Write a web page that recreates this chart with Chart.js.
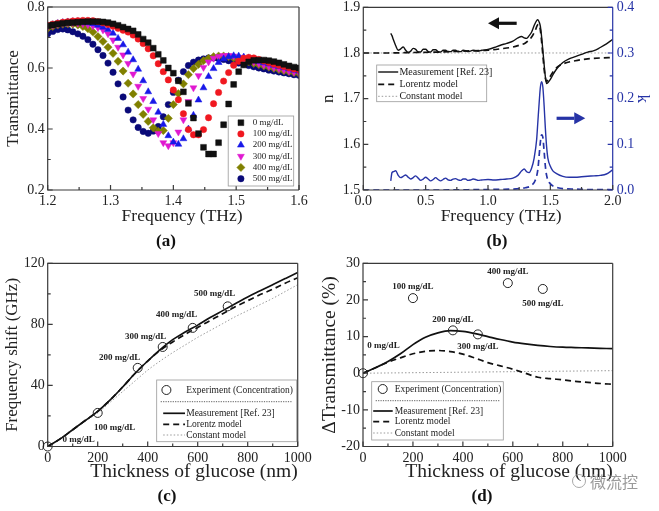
<!DOCTYPE html>
<html>
<head>
<meta charset="utf-8">
<script src="https://cdn.jsdelivr.net/npm/chart.js@4.4.1/dist/chart.umd.min.js"></script>
<style>
  body { margin: 0; background: #fff; }
  #wrap { position: relative; width: 659px; height: 511px; overflow: hidden; background: #fff; }
  canvas { position: absolute; }
  .tag { position: absolute; font: bold 17px "Liberation Serif", serif; color: #111; transform: translate(-50%, -50%); }
  .wm { position: absolute; left: 572px; top: 469px; font: 16px "Noto Sans CJK SC", sans-serif; color: #9a9a9a; display: flex; align-items: center; gap: 4px; }
  .wm i { display: inline-block; width: 12px; height: 12px; border: 1.5px solid #a8a8a8; border-radius: 50%; }
</style>
</head>
<body>
<div id="wrap">
  <canvas id="cA" width="330" height="255" style="left:0;top:0"></canvas>
  <canvas id="cB" width="341" height="255" style="left:318px;top:0"></canvas>
  <canvas id="cC" width="330" height="255" style="left:0;top:255px"></canvas>
  <canvas id="cD" width="341" height="255" style="left:318px;top:255px"></canvas>
  <div class="tag" style="left:166px;top:241px">(a)</div>
  <div class="tag" style="left:497px;top:241px">(b)</div>
  <div class="tag" style="left:167px;top:496px">(c)</div>
  <div class="tag" style="left:482px;top:496px">(d)</div>
  <div class="wm"><i></i>微流控</div>
</div>
<script>
// ---- (a) transmittance spectra ----
const freqA = [1.200, 1.208, 1.216, 1.224, 1.232, 1.240, 1.248, 1.256, 1.264, 1.272,
  1.280, 1.288, 1.296, 1.304, 1.312, 1.320, 1.328, 1.336, 1.344, 1.352,
  1.360, 1.368, 1.376, 1.384, 1.392, 1.400, 1.408, 1.416, 1.424, 1.432,
  1.440, 1.448, 1.456, 1.464, 1.472, 1.480, 1.488, 1.496, 1.504, 1.512,
  1.520, 1.528, 1.536, 1.544, 1.552, 1.560, 1.568, 1.576, 1.584, 1.592, 1.600];
const t0 = [.738, .741, .744, .746, .748, .749, .750, .751, .752, .752,
  .752, .751, .749, .745, .740, .734, .728, .722, .710, .695,
  .683, .665, .645, .625, .600, .583, .558, .522, .484, .436,
  .385, .340, .318, .318, .355, .414, .482, .546, .588, .610,
  .620, .625, .626, .626, .624, .621, .617, .612, .607, .603, .600];
const t100 = [.740, .744, .747, .750, .752, .754, .755, .756, .756, .755,
  .752, .748, .743, .737, .730, .724, .718, .708, .695, .680,
  .663, .640, .614, .588, .561, .528, .496, .450, .398, .381,
  .381, .398, .437, .483, .520, .557, .585, .609, .622, .632,
  .635, .633, .628, .623, .618, .613, .609, .605, .601, .597, .594];
const t200 = [.738, .742, .746, .749, .751, .752, .752, .750, .748, .745,
  .740, .734, .726, .714, .697, .676, .652, .627, .596, .558,
  .522, .490, .455, .415, .378, .357, .350, .368, .400, .445,
  .495, .535, .572, .598, .618, .630, .637, .640, .639, .636,
  .632, .627, .622, .617, .613, .609, .605, .601, .597, .593, .590];
const t300 = [.735, .740, .744, .747, .748, .748, .747, .745, .742, .738,
  .732, .725, .712, .692, .668, .643, .615, .580, .540, .500,
  .465, .430, .385, .355, .345, .355, .390, .430, .490, .535,
  .575, .602, .620, .632, .638, .641, .641, .639, .635, .630,
  .625, .620, .615, .610, .606, .602, .598, .594, .590, .587, .585];
const t400 = [.730, .736, .741, .744, .745, .744, .741, .736, .729, .718,
  .703, .687, .668, .648, .622, .590, .550, .515, .480, .448,
  .425, .404, .392, .395, .435, .480, .516, .548, .578, .598,
  .612, .624, .632, .637, .639, .639, .637, .633, .629, .624,
  .620, .615, .611, .607, .603, .599, .595, .591, .588, .585, .582];
const t500 = [.712, .720, .726, .728, .725, .719, .712, .704, .693, .678,
  .660, .641, .616, .586, .548, .505, .462, .430, .405, .392,
  .386, .393, .408, .440, .480, .520, .560, .588, .608, .619,
  .626, .630, .633, .633, .631, .628, .624, .620, .616, .612,
  .608, .604, .600, .597, .593, .590, .587, .584, .581, .578, .576];
const concA = ['0 mg/dL', '100 mg/dL', '200 mg/dL', '300 mg/dL', '400 mg/dL', '500 mg/dL'];

// ---- (b) refractive index n and extinction k ----
const freqB = [0.22, 0.23, 0.24, 0.26, 0.28, 0.30, 0.32, 0.34, 0.36, 0.38,
  0.40, 0.42, 0.44, 0.46, 0.48, 0.50, 0.52, 0.54, 0.56, 0.58,
  0.60, 0.62, 0.64, 0.66, 0.68, 0.70, 0.72, 0.74, 0.76, 0.78,
  0.80, 0.82, 0.84, 0.86, 0.88, 0.90, 0.92, 0.95, 1.00, 1.05,
  1.10, 1.15, 1.20, 1.24, 1.27, 1.29, 1.31, 1.33, 1.35, 1.37,
  1.39, 1.40, 1.41, 1.42, 1.43, 1.44, 1.45, 1.46, 1.47, 1.48,
  1.50, 1.52, 1.55, 1.60, 1.65, 1.70, 1.75, 1.80, 1.85, 1.90, 1.95, 2.00];
const nMeas = [1.843, 1.838, 1.830, 1.816, 1.806, 1.809, 1.813, 1.806, 1.801, 1.804,
  1.810, 1.808, 1.802, 1.802, 1.808, 1.808, 1.803, 1.802, 1.807, 1.807,
  1.803, 1.802, 1.806, 1.806, 1.803, 1.803, 1.806, 1.806, 1.803, 1.803,
  1.806, 1.805, 1.803, 1.804, 1.806, 1.805, 1.804, 1.806, 1.808, 1.812,
  1.817, 1.821, 1.826, 1.833, 1.836, 1.833, 1.832, 1.838, 1.846, 1.860,
  1.871, 1.873, 1.868, 1.858, 1.835, 1.805, 1.775, 1.748, 1.733, 1.735,
  1.742, 1.752, 1.765, 1.779, 1.787, 1.792, 1.797, 1.802, 1.805, 1.812, 1.820, 1.830];
const kMeas = [0.020, 0.038, 0.040, 0.042, 0.032, 0.027, 0.030, 0.033, 0.028, 0.024,
  0.027, 0.031, 0.026, 0.021, 0.024, 0.028, 0.024, 0.020, 0.023, 0.027,
  0.023, 0.020, 0.023, 0.026, 0.022, 0.021, 0.024, 0.025, 0.022, 0.021,
  0.024, 0.024, 0.021, 0.022, 0.024, 0.023, 0.021, 0.022, 0.023, 0.022,
  0.023, 0.024, 0.026, 0.032, 0.042, 0.046, 0.040, 0.038, 0.048, 0.070,
  0.110, 0.150, 0.190, 0.225, 0.237, 0.225, 0.185, 0.135, 0.095, 0.070,
  0.052, 0.042, 0.036, 0.030, 0.028, 0.028, 0.029, 0.030, 0.031, 0.032, 0.035, 0.044];
const freqLor = [0, 0.2, 0.4, 0.6, 0.8, 1.0, 1.1, 1.2, 1.25, 1.3,
  1.35, 1.38, 1.40, 1.41, 1.42, 1.43, 1.44, 1.45, 1.46, 1.47,
  1.49, 1.52, 1.56, 1.60, 1.70, 1.80, 1.90, 2.00];
const nLor = [1.800, 1.800, 1.801, 1.802, 1.804, 1.806, 1.809, 1.813, 1.817, 1.822,
  1.835, 1.850, 1.862, 1.862, 1.850, 1.825, 1.795, 1.765, 1.745, 1.738,
  1.745, 1.758, 1.770, 1.776, 1.783, 1.787, 1.789, 1.790];
const kLor = [0, 0, 0, 0, 0.0005, 0.001, 0.0015, 0.002, 0.003, 0.005,
  0.010, 0.022, 0.045, 0.075, 0.105, 0.121, 0.115, 0.085, 0.052, 0.032,
  0.017, 0.009, 0.005, 0.003, 0.002, 0.001, 0.001, 0.0005];
const freqConst = [0, 2.0];
const nConst = [1.8, 1.8];

// ---- (c), (d) versus glucose thickness ----
const thick = [0, 50, 100, 150, 200, 250, 300, 350, 400, 450, 500,
  550, 600, 650, 700, 750, 800, 850, 900, 950, 1000];
const shiftMeas = [0, 5, 11, 17, 23, 30.5, 39, 48, 56, 63.5, 70,
  75, 79.5, 84.5, 89, 93.5, 98, 102, 106, 110, 114];
const shiftLor = [0, 5, 11, 17, 23, 30.5, 39, 48, 56, 63, 68.5,
  73.5, 78, 82.5, 87, 91.5, 95.5, 99.5, 103, 107, 110.5];
const shiftConst = [0, 5.5, 11, 16.5, 22, 29, 36, 43, 50, 56, 61.5,
  66.5, 71.5, 76, 80.5, 85, 89, 93, 97, 101.5, 106];
const dTransMeas = [0, 1.5, 3.2, 5.3, 7.8, 9.8, 11.0, 11.6, 11.4, 10.8, 10.0,
  9.2, 8.5, 8.0, 7.6, 7.3, 7.1, 7.0, 6.9, 6.8, 6.7];
const dTransLor = [0, 1.5, 3.0, 4.2, 5.3, 6.0, 6.2, 5.9, 5.2, 4.1, 2.9,
  2.0, 1.1, 0.0, -1.1, -1.5, -1.8, -2.2, -2.5, -2.8, -3.0];
const thickConst = [0, 500, 1000];
const dTransConst = [0, 0.35, 0.7];
const thickExp = [0, 200, 360, 460, 580, 720];
const shiftExp = [0, 22, 51.5, 65.2, 77.7, 91.8];
const dTransExp = [0, 20.5, 11.7, 10.6, 24.6, 23];
const concExp = ['0 mg/dL', '100 mg/dL', '200 mg/dL', '300 mg/dL', '400 mg/dL', '500 mg/dL'];

// styles
const colorsA = ['#111111', '#f01820', '#1818e8', '#e018d0', '#808000', '#0a0a78'];
const shapesA = ['rect', 'circle', 'triangle', 'triangle', 'rectRot', 'circle'];
const rotA = [0, 0, 0, 180, 0, 0];
const sizeA = [4.1, 3.2, 4.0, 4.0, 4.1, 3.2];
const BLUE = '#2633a6';
const FRAME = '#3a3a3a';

Chart.defaults.font.family = '"Liberation Serif", "Times New Roman", serif';
Chart.defaults.color = '#222';
Chart.defaults.animation = false;

const pts = (xs, ys) => xs.map((x, i) => ({ x: x, y: ys[i] }));

function fixW(w) { return s => { s.width = w; s.paddingTop = 0; s.paddingBottom = 0; }; }
function fixH(h) { return s => { s.height = h; s.paddingLeft = 0; s.paddingRight = 0; }; }

function axis(o) {
  return {
    type: 'linear', position: o.pos, axis: o.pos === 'bottom' ? 'x' : 'y',
    min: o.min, max: o.max,
    grid: { display: false, drawTicks: false }, border: { display: false },
    ticks: {
      stepSize: o.step, autoSkip: false, maxRotation: 0, padding: o.pad,
      color: o.color || '#222', font: { size: 14 },
      callback: v => Number(v).toFixed(o.dec)
    },
    title: { display: true, text: o.title, color: o.color || '#222', align: o.talign || 'center',
      font: { size: o.tsize || 17, lineHeight: 1 }, padding: o.tpad },
    afterFit: o.pos === 'bottom' ? fixH(o.size) : fixW(o.size)
  };
}

// frame + inward tick marks
const panelDeco = {
  id: 'panelDeco',
  afterDatasetsDraw(chart, args, o) {
    const ctx = chart.ctx, a = chart.chartArea;
    ctx.save();
    ctx.lineWidth = 1.2;
    ctx.strokeStyle = FRAME;
    ctx.beginPath();
    ctx.moveTo(a.right, a.top); ctx.lineTo(a.left, a.top);
    ctx.lineTo(a.left, a.bottom); ctx.lineTo(a.right, a.bottom);
    ctx.stroke();
    ctx.strokeStyle = o.rightColor || FRAME;
    ctx.beginPath(); ctx.moveTo(a.right, a.top); ctx.lineTo(a.right, a.bottom); ctx.stroke();
    for (const t of o.ticks) {
      const s = chart.scales[t.id];
      const n = Math.round((s.max - s.min) / t.minor);
      const every = Math.round(t.major / t.minor);
      ctx.strokeStyle = t.color || FRAME;
      ctx.beginPath();
      for (let i = 0; i <= n; i++) {
        const p = s.getPixelForValue(s.min + i * t.minor);
        const len = i % every === 0 ? 5 : 3;
        if (t.side === 'bottom') { ctx.moveTo(p, a.bottom); ctx.lineTo(p, a.bottom - len); }
        else if (t.side === 'left') { ctx.moveTo(a.left, p); ctx.lineTo(a.left + len, p); }
        else { ctx.moveTo(a.right, p); ctx.lineTo(a.right - len, p); }
      }
      ctx.stroke();
    }
    ctx.restore();
  }
};

function drawMark(ctx, ds, x, y) {
  const r = ds.pointRadius, st = ds.pointStyle;
  ctx.save();
  ctx.translate(x, y);
  ctx.rotate((ds.pointRotation || 0) * Math.PI / 180);
  ctx.beginPath();
  if (st === 'rect') { const h = r * Math.SQRT1_2; ctx.rect(-h, -h, 2 * h, 2 * h); }
  else if (st === 'rectRot') { ctx.moveTo(-r, 0); ctx.lineTo(0, -r); ctx.lineTo(r, 0); ctx.lineTo(0, r); ctx.closePath(); }
  else if (st === 'triangle') {
    for (let k = 0; k < 3; k++) { const t = k * 2 * Math.PI / 3; ctx.lineTo(Math.sin(t) * r, -Math.cos(t) * r); }
    ctx.closePath();
  } else ctx.arc(0, 0, r, 0, 2 * Math.PI);
  ctx.lineWidth = ds.pointBorderWidth || 1;
  ctx.strokeStyle = ds.pointBorderColor;
  if (ds.pointBackgroundColor !== 'rgba(0,0,0,0)') { ctx.fillStyle = ds.pointBackgroundColor; ctx.fill(); }
  ctx.stroke();
  ctx.restore();
}

// boxed legend placed inside the plot
const panelLegend = {
  id: 'panelLegend',
  afterDraw(chart, args, o) {
    if (!o.rows) return;
    const ctx = chart.ctx, a = chart.chartArea;
    const x0 = a.left + o.x, y0 = a.top + o.y;
    ctx.save();
    ctx.fillStyle = '#fff';
    ctx.fillRect(x0, y0, o.w, o.h);
    ctx.strokeStyle = '#9a9a9a'; ctx.lineWidth = 0.8;
    ctx.strokeRect(x0, y0, o.w, o.h);
    ctx.font = o.font; ctx.textBaseline = 'middle'; ctx.textAlign = 'left';
    for (const r of o.rows) {
      const y = y0 + r.y;
      if (r.sep) {
        ctx.save(); ctx.strokeStyle = '#333'; ctx.lineWidth = 0.8; ctx.setLineDash([1.2, 1.2]);
        ctx.beginPath(); ctx.moveTo(x0 + 4, y); ctx.lineTo(x0 + o.w - 4, y); ctx.stroke(); ctx.restore();
        continue;
      }
      const ds = chart.data.datasets[r.ds];
      if (ds.showLine) {
        ctx.save(); ctx.strokeStyle = ds.borderColor; ctx.lineWidth = ds.borderWidth;
        ctx.setLineDash(ds.borderDash || []);
        ctx.beginPath(); ctx.moveTo(x0 + o.lx0, y); ctx.lineTo(x0 + o.lx1, y); ctx.stroke(); ctx.restore();
      } else {
        drawMark(ctx, ds, x0 + o.mx, y);
      }
      ctx.fillStyle = '#222';
      ctx.fillText(ds.label, x0 + o.tx, y);
    }
    ctx.restore();
  }
};

// concentration notes next to the experiment points
const pointNotes = {
  id: 'pointNotes',
  afterDatasetsDraw(chart, args, o) {
    if (!o.texts) return;
    const ctx = chart.ctx, meta = chart.getDatasetMeta(o.ds);
    ctx.save();
    ctx.font = 'bold 9px "Liberation Serif", serif';
    ctx.fillStyle = '#222'; ctx.textAlign = 'center'; ctx.textBaseline = 'middle';
    o.texts.forEach((t, i) => {
      const el = meta.data[i];
      ctx.fillText(t, el.x + o.dx[i], el.y + o.dy[i]);
    });
    ctx.restore();
  }
};

// horizontal arrows pointing at the axis a curve belongs to
const panelArrows = {
  id: 'panelArrows',
  afterDatasetsDraw(chart, args, o) {
    if (!o.list) return;
    const ctx = chart.ctx, xs = chart.scales.x;
    for (const ar of o.list) {
      const ys = chart.scales[ar.axis];
      const x1 = xs.getPixelForValue(ar.from), x2 = xs.getPixelForValue(ar.to), y = ys.getPixelForValue(ar.at);
      const dir = Math.sign(x2 - x1), head = 11;
      ctx.save();
      ctx.strokeStyle = ar.color; ctx.fillStyle = ar.color; ctx.lineWidth = 3.2;
      ctx.beginPath(); ctx.moveTo(x1, y); ctx.lineTo(x2 - dir * head, y); ctx.stroke();
      ctx.beginPath(); ctx.moveTo(x2, y); ctx.lineTo(x2 - dir * head, y - 6); ctx.lineTo(x2 - dir * head, y + 6);
      ctx.closePath(); ctx.fill();
      ctx.restore();
    }
  }
};

const basePlugins = { legend: { display: false }, tooltip: { enabled: false } };
const linePlugins = [panelDeco, panelLegend, pointNotes, panelArrows];

function lineSet(label, data, color, width, dash, yAxisID) {
  return { label: label, data: data, showLine: true, pointRadius: 0, borderColor: color,
    backgroundColor: color, borderWidth: width, borderDash: dash, yAxisID: yAxisID || 'y',
    cubicInterpolationMode: 'monotone', fill: false };
}

// ---------- (a) ----------
const seriesA = [t0, t100, t200, t300, t400, t500];
new Chart(document.getElementById('cA'), {
  type: 'scatter',
  data: {
    datasets: seriesA.map((ys, i) => ({
      label: concA[i], data: pts(freqA, ys), showLine: false,
      pointStyle: shapesA[i], pointRotation: rotA[i], pointRadius: sizeA[i],
      pointBackgroundColor: colorsA[i], pointBorderColor: colorsA[i], pointBorderWidth: 0.5
    }))
  },
  options: {
    responsive: false,
    layout: { padding: { left: 0, top: 7, right: 31, bottom: 20 } },
    plugins: Object.assign({}, basePlugins, {
      panelDeco: { ticks: [
        { id: 'x', side: 'bottom', major: 0.1, minor: 0.05 },
        { id: 'y', side: 'left', major: 0.2, minor: 0.1 }] },
      panelLegend: { x: 180.5, y: 109, w: 65.5, h: 70, font: '9px "Liberation Serif", serif',
        mx: 12.7, tx: 24.5,
        rows: [0, 1, 2, 3, 4, 5].map(i => ({ ds: i, y: 6.7 + i * 11.2 })) }
    }),
    scales: {
      x: axis({ pos: 'bottom', min: 1.2, max: 1.6, step: 0.1, dec: 1, pad: 3,
        title: '\u2003Frequency (THz)', tsize: 17.5, tpad: { bottom: 10 }, size: 45 }),
      y: axis({ pos: 'left', min: 0.2, max: 0.8, step: 0.2, dec: 1, pad: 3,
        title: 'Transmittance', tpad: { top: 5 }, size: 47.7 })
    }
  },
  plugins: linePlugins
});

// ---------- (b) ----------
new Chart(document.getElementById('cB'), {
  type: 'scatter',
  data: {
    datasets: [
      lineSet('Measurement [Ref. 23]', pts(freqB, nMeas), '#111', 1.4, [], 'y'),
      lineSet('Lorentz model', pts(freqLor, nLor), '#111', 1.7, [6, 4], 'y'),
      lineSet('Constant model', pts(freqConst, nConst), '#9a9a9a', 1, [1.5, 2], 'y'),
      lineSet('k measurement', pts(freqB, kMeas), BLUE, 1.4, [], 'k'),
      lineSet('k Lorentz', pts(freqLor, kLor), BLUE, 1.7, [6, 4], 'k')
    ]
  },
  options: {
    responsive: false,
    layout: { padding: { left: 0, top: 7.3, right: 0, bottom: 20 } },
    plugins: Object.assign({}, basePlugins, {
      panelDeco: { rightColor: BLUE, ticks: [
        { id: 'x', side: 'bottom', major: 0.5, minor: 0.25 },
        { id: 'y', side: 'left', major: 0.1, minor: 0.05 },
        { id: 'k', side: 'right', major: 0.1, minor: 0.05, color: BLUE }] },
      panelLegend: { x: 13.4, y: 57.7, w: 110, h: 36.7, font: '10px "Liberation Serif", serif',
        lx0: 1.5, lx1: 21.5, tx: 22.7,
        rows: [{ ds: 0, y: 7 }, { ds: 1, y: 19.3 }, { ds: 2, y: 31.3 }] },
      panelArrows: { list: [
        { from: 1.23, to: 1.0, at: 1.865, axis: 'y', color: '#111' },
        { from: 1.55, to: 1.78, at: 0.157, axis: 'k', color: BLUE }] }
    }),
    scales: {
      x: axis({ pos: 'bottom', min: 0, max: 2, step: 0.5, dec: 1, pad: 3,
        title: '\u2003\u2002Frequency (THz)', tsize: 17.5, tpad: { bottom: 10 }, size: 45 }),
      y: axis({ pos: 'left', min: 1.5, max: 1.9, step: 0.1, dec: 1, pad: 3,
        title: 'n', tpad: { top: 2.5 }, size: 45.3 }),
      k: axis({ pos: 'right', min: 0, max: 0.4, step: 0.1, dec: 1, pad: 4, color: BLUE,
        title: 'k', tpad: { top: 8.5 }, size: 46.3 })
    }
  },
  plugins: linePlugins
});

// ---------- (c) and (d) ----------
function expSet(ys) {
  return { label: 'Experiment (Concentration)', data: pts(thickExp, ys), showLine: false,
    pointStyle: 'circle', pointRadius: 4.5, pointBackgroundColor: 'rgba(0,0,0,0)',
    pointBorderColor: '#222', pointBorderWidth: 1, clip: false };
}

new Chart(document.getElementById('cC'), {
  type: 'scatter',
  data: {
    datasets: [
      expSet(shiftExp),
      lineSet('Measurement [Ref. 23]', pts(thick, shiftMeas), '#111', 1.7, []),
      lineSet('Lorentz model', pts(thick, shiftLor), '#111', 1.7, [6, 4]),
      lineSet('Constant model', pts(thick, shiftConst), '#9a9a9a', 1, [1.5, 2])
    ]
  },
  options: {
    responsive: false,
    layout: { padding: { left: 0, top: 8.3, right: 32.3, bottom: 19.5 } },
    plugins: Object.assign({}, basePlugins, {
      panelDeco: { ticks: [
        { id: 'x', side: 'bottom', major: 200, minor: 100 },
        { id: 'y', side: 'left', major: 40, minor: 20 }] },
      panelLegend: { x: 109, y: 116.7, w: 140, h: 61.7, font: '9.5px "Liberation Serif", serif',
        mx: 9.7, lx0: 6.5, lx1: 28.3, tx: 29.5,
        rows: [{ ds: 0, y: 10 }, { sep: true, y: 21.7 }, { ds: 1, y: 33.3 }, { ds: 2, y: 44.3 }, { ds: 3, y: 55 }] },
      pointNotes: { ds: 0, texts: concExp, dx: [31, 17, -18, -17, -16, -13], dy: [-7, 15, -10, -10, -13, -13] }
    }),
    scales: {
      x: axis({ pos: 'bottom', min: 0, max: 1000, step: 200, dec: 0, pad: 3,
        title: 'Thickness of glucose (nm)', tsize: 19.5, talign: 'end', tpad: { bottom: 8.5 }, size: 44 }),
      y: axis({ pos: 'left', min: 0, max: 120, step: 40, dec: 0, pad: 3,
        title: 'Frequency shift (GHz)', tpad: { top: 4.3 }, size: 47.7 })
    }
  },
  plugins: linePlugins
});

new Chart(document.getElementById('cD'), {
  type: 'scatter',
  data: {
    datasets: [
      expSet(dTransExp),
      lineSet('Measurement [Ref. 23]', pts(thick, dTransMeas), '#111', 1.7, []),
      lineSet('Lorentz model', pts(thick, dTransLor), '#111', 1.7, [6, 4]),
      lineSet('Constant model', pts(thickConst, dTransConst), '#9a9a9a', 1, [1.5, 2])
    ]
  },
  options: {
    responsive: false,
    layout: { padding: { left: 0, top: 8.3, right: 46.3, bottom: 19.5 } },
    plugins: Object.assign({}, basePlugins, {
      panelDeco: { ticks: [
        { id: 'x', side: 'bottom', major: 200, minor: 100 },
        { id: 'y', side: 'left', major: 10, minor: 5 }] },
      panelLegend: { x: 8.7, y: 118.4, w: 131.6, h: 58.3, font: '9.5px "Liberation Serif", serif',
        mx: 11, lx0: 1.5, lx1: 21, tx: 23,
        rows: [{ ds: 0, y: 7.3 }, { sep: true, y: 19 }, { ds: 1, y: 29.3 }, { ds: 2, y: 40 }, { ds: 3, y: 51.3 }] },
      pointNotes: { ds: 0, texts: concExp, dx: [20.5, 0, 0, 0, 0, 0], dy: [-28, -11, -11, 12, -11, 15] }
    }),
    scales: {
      x: axis({ pos: 'bottom', min: 0, max: 1000, step: 200, dec: 0, pad: 3,
        title: 'Thickness of glucose (nm)', tsize: 19.5, talign: 'end', tpad: { bottom: 8.5 }, size: 44 }),
      y: axis({ pos: 'left', min: -20, max: 30, step: 10, dec: 0, pad: 3,
        title: 'ΔTransmittance (%)', tsize: 19.5, tpad: { top: 2.5 }, size: 45 })
    }
  },
  plugins: linePlugins
});
</script>
</body>
</html>
